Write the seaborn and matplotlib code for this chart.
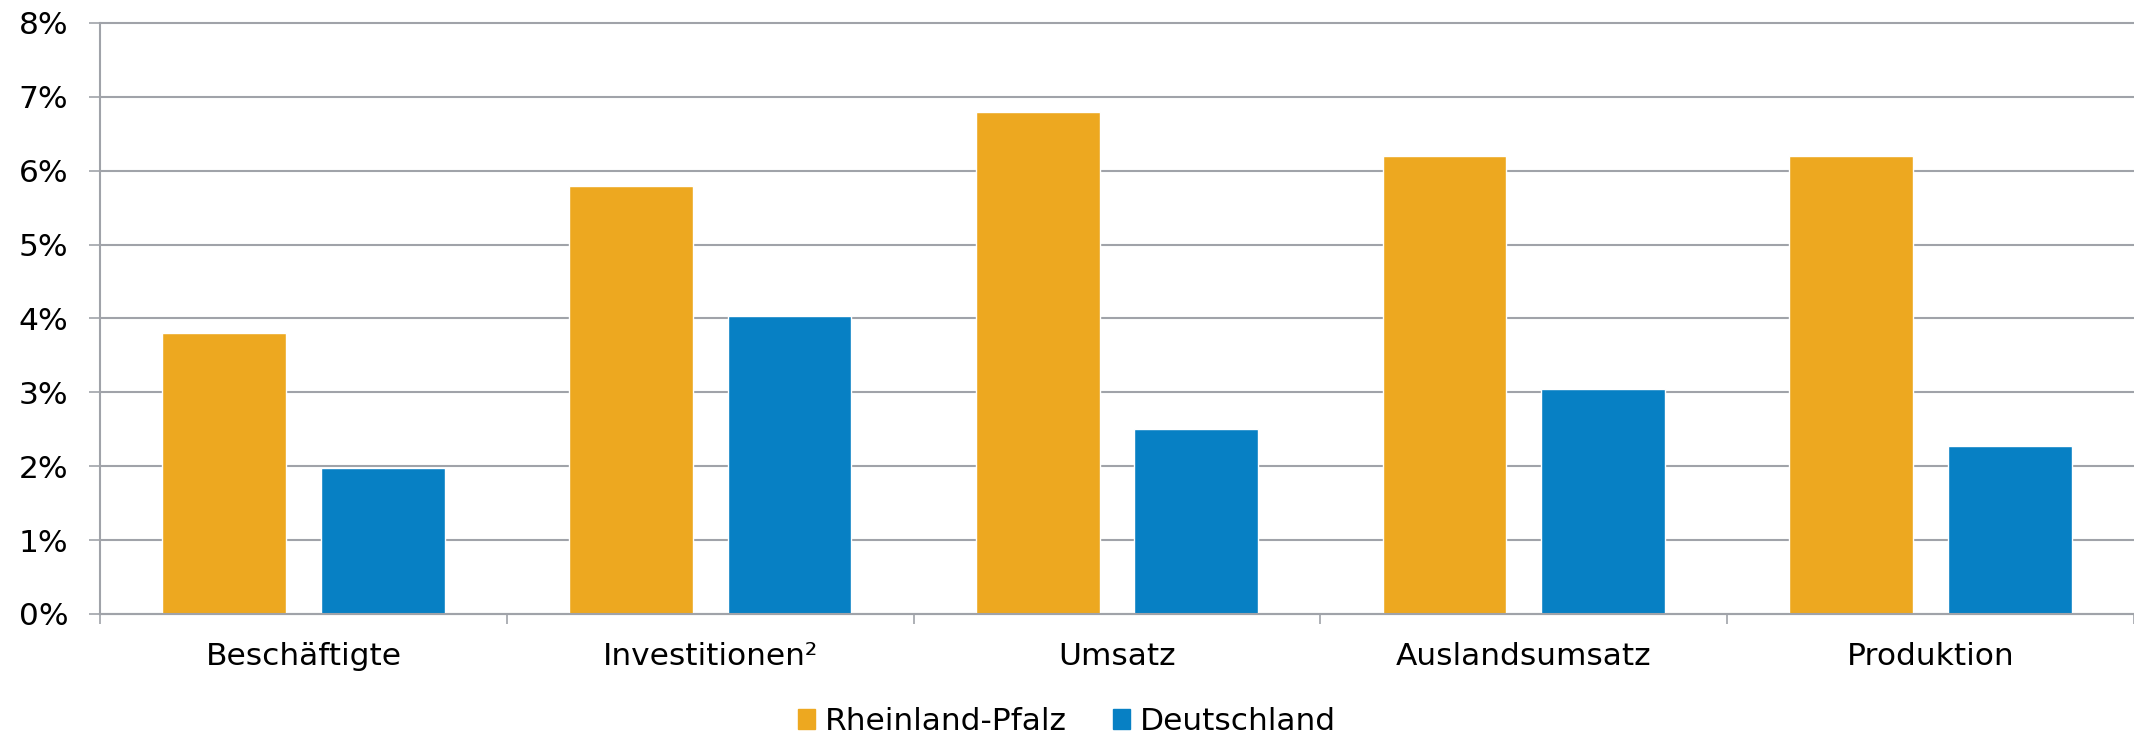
import numpy as np
import pandas as pd
import matplotlib
matplotlib.use("Agg")
import matplotlib.pyplot as plt
import seaborn as sns
from matplotlib.ticker import FixedLocator, PercentFormatter

# Daten (Veränderung in %)
kategorien = ["Beschäftigte", "Investitionen²", "Umsatz", "Auslandsumsatz", "Produktion"]
rheinland_pfalz = [3.8, 5.8, 6.8, 6.2, 6.2]
deutschland = [1.98, 4.03, 2.51, 3.04, 2.27]
regionen = ["Rheinland-Pfalz", "Deutschland"]
farben = ["#EDA820", "#0780C4"]

df = pd.DataFrame({
    "Kategorie": kategorien * 2,
    "Region": [regionen[0]] * len(kategorien) + [regionen[1]] * len(kategorien),
    "Wert": rheinland_pfalz + deutschland,
})

sns.set_theme(style="white")
plt.rcParams["font.family"] = ["DejaVu Sans"]
plt.rcParams["text.color"] = "black"
plt.rcParams["xtick.color"] = "black"
plt.rcParams["ytick.color"] = "black"
grau = "#A0A3A9"

fig = plt.figure(figsize=(21.34, 7.34), dpi=100)
ax = fig.add_axes([0.0469, 0.1635, 0.9531, 0.8052])

sns.barplot(data=df, x="Kategorie", y="Wert", hue="Region",
            palette=farben, width=0.78, gap=0.22, saturation=1,
            order=kategorien, hue_order=regionen, ax=ax, legend=False)

ax.set_ylim(0, 8)
ax.set_xlim(-0.5, len(kategorien) - 0.5)
ax.set_yticks(range(0, 9))
ax.yaxis.set_major_formatter(PercentFormatter(decimals=0))
ax.yaxis.grid(True, color=grau, linewidth=1.5)
for gl in ax.get_ygridlines():
    gl.set_clip_on(False)
ax.set_axisbelow(True)

# Kategoriegrenzen als Ticks, Beschriftung in der Mitte
ax.xaxis.set_major_locator(FixedLocator(np.arange(-0.5, len(kategorien), 1.0)))
ax.xaxis.set_minor_locator(FixedLocator(np.arange(len(kategorien))))
ax.set_xticklabels([], minor=False)
ax.set_xticklabels(kategorien, minor=True)
ax.tick_params(axis="x", which="major", length=7, width=1.2, color=grau, bottom=True)
ax.tick_params(axis="x", which="minor", length=0, pad=20, labelsize=22.5)
ax.tick_params(axis="y", length=8, width=1.2, color=grau, left=True, labelsize=22.5, pad=15)

ax.set_xlabel("")
ax.set_ylabel("")
for s in ["top", "right"]:
    ax.spines[s].set_visible(False)
for s in ["left", "bottom"]:
    ax.spines[s].set_color(grau)
    ax.spines[s].set_linewidth(1.5)

handles = [plt.Rectangle((0, 0), 1, 1, color=c) for c in farben]
fig.legend(handles, regionen, loc="center", bbox_to_anchor=(0.5, 0.017),
           ncol=2, frameon=False, fontsize=22.5, handlelength=0.55,
           handleheight=0.6, handletextpad=0.32, columnspacing=1.45,
           borderpad=0.2)

fig.savefig("out.png", dpi=100)
